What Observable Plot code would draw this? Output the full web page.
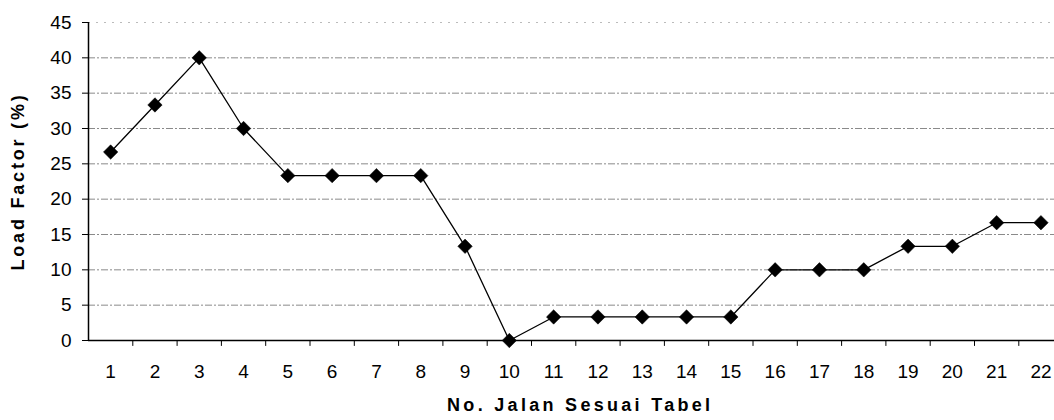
<!DOCTYPE html>
<html>
<head>
<meta charset="utf-8">
<script src="https://cdn.jsdelivr.net/npm/d3@7"></script>
<script src="https://cdn.jsdelivr.net/npm/@observablehq/plot@0.6"></script>
<style>
  html, body { margin: 0; padding: 0; background: #fff; }
  svg { display: block; }
</style>
</head>
<body>
<div id="chart"></div>
<script>
const categories = [1,2,3,4,5,6,7,8,9,10,11,12,13,14,15,16,17,18,19,20,21,22];
const loadFactor = [26.67,33.33,40,30,23.33,23.33,23.33,23.33,13.33,0,3.33,3.33,3.33,3.33,3.33,10,10,10,13.33,13.33,16.67,16.67];
const yTicks = [0,5,10,15,20,25,30,35,40,45];
const xTitle = "No. Jalan Sesuai Tabel";
const yTitle = "Load Factor (%)";

const data = categories.map((c, i) => ({no: c, lf: loadFactor[i]}));
const boundaries = categories.slice(0, -1).map(c => c + 0.5);
const font = "'Liberation Sans', Arial, sans-serif";
const lineShape = {draw(context, l) { context.moveTo(0, 0); context.lineTo(0, -l); }};

const chart = Plot.plot({
  width: 1054,
  height: 420,
  marginLeft: 88,
  marginRight: 0,
  marginTop: 22,
  marginBottom: 80,
  style: {fontFamily: font, fontSize: "19px", color: "#000", background: "#fff"},
  x: {type: "linear", domain: [0.5, 22.5], range: [88, 88 + 22 * 44.3]},
  y: {type: "linear", domain: [0, 45]},
  marks: [
    Plot.ruleY(yTicks.filter(d => d > 0 && d < 45), {stroke: "#8a8a8a", strokeWidth: 1, strokeDasharray: "7,2,2,2"}),
    Plot.ruleY([45], {stroke: "#bbb", strokeWidth: 1, strokeDasharray: "2,6"}),
    Plot.axisY(yTicks, {tickSize: 6, tickPadding: 11, label: null, fontSize: 19}),
    Plot.axisX(categories, {tickSize: 0, tickPadding: 24, label: null, fontSize: 19}),
    Plot.vector(boundaries, {x: d => d, y: () => 0, length: 5, rotate: 180, anchor: "start", shape: lineShape, stroke: "#000", strokeWidth: 1}),
    Plot.ruleX([0.5], {stroke: "#000", strokeWidth: 1.5}),
    Plot.ruleY([0], {stroke: "#000", strokeWidth: 1.5}),
    Plot.line(data, {x: "no", y: "lf", stroke: "#000", strokeWidth: 1.3}),
    Plot.dot(data, {x: "no", y: "lf", symbol: "diamond2", r: 6.5, fill: "#000", stroke: "#000", strokeWidth: 0.5}),
    Plot.text([yTitle], {frameAnchor: "left", dx: -70, rotate: -90, textAnchor: "middle", fontWeight: "bold", fontSize: 18, text: d => d}),
    Plot.text([xTitle], {frameAnchor: "bottom", x: () => 11.6, dy: 70, textAnchor: "middle", fontWeight: "bold", fontSize: 18, text: d => d})
  ]
});
document.getElementById("chart").append(chart);
d3.select(chart).selectAll("text").filter(function() { return d3.select(this).text() === xTitle; }).style("letter-spacing", "3.3px");
d3.select(chart).selectAll("text").filter(function() { return d3.select(this).text() === yTitle; }).style("letter-spacing", "2.8px");
</script>
</body>
</html>
